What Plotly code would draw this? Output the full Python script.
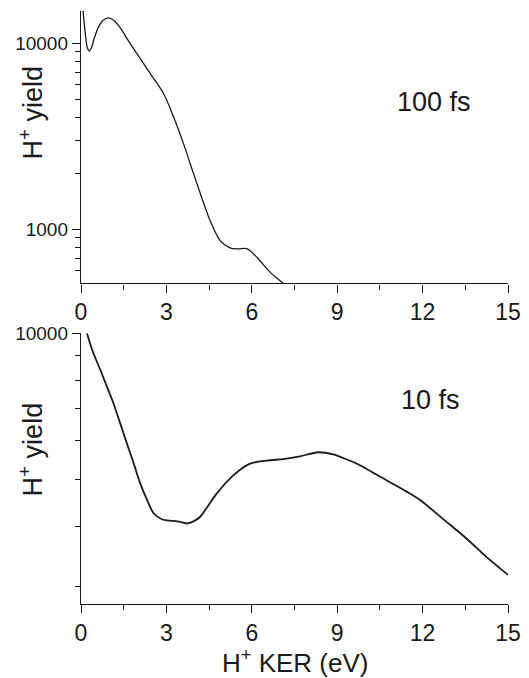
import plotly.graph_objects as go

# ---- data: 100 fs panel ----
ker_100 = [0.03, 0.08, 0.15, 0.22, 0.29, 0.38, 0.47, 0.62, 0.78, 0.97, 1.15, 1.38, 1.65, 1.96, 2.43,
           2.9, 3.25, 3.6, 3.95, 4.19, 4.53, 4.88, 5.23, 5.5, 5.82, 6.18, 6.64, 7.1, 7.25]
yield_100 = [19000, 14500, 11300, 9500, 9090, 9600, 10700, 12300, 13300, 13700, 13300, 12100, 10400, 8840,
             6890, 5380, 4030, 2890, 2000, 1560, 1120, 873, 796, 785, 787, 708, 589, 513, 490]

# ---- data: 10 fs panel ----
ker_10 = [0.21, 0.39, 0.68, 0.91, 1.14, 1.38, 1.61, 1.85, 2.08, 2.32, 2.55, 2.84, 3.02, 3.48, 3.72, 3.95,
          4.19, 4.45, 4.77, 5.35, 5.94, 6.53, 7.11, 7.69, 8.34, 8.86, 9.3, 9.8, 10.5, 11.44, 11.9, 12.84,
          13.54, 14.25, 15.0]
yield_10 = [10000, 9250, 8400, 7760, 7170, 6510, 5930, 5390, 4900, 4530, 4250, 4130, 4110, 4080, 4050, 4090,
            4180, 4390, 4670, 5090, 5380, 5460, 5500, 5570, 5680, 5620, 5500, 5340, 5060, 4710, 4530, 4080,
            3770, 3450, 3170]

# ---- ticks ----
x_ticks = [0, 3, 6, 9, 12, 15]
top_y_ticks = [1000, 10000]
top_y_labels = ["1000", "10000"]
top_y_minor = [500, 600, 700, 800, 900, 2000, 3000, 4000, 5000, 6000, 7000, 8000, 9000]
bot_y_ticks = [10000]
bot_y_labels = ["10000"]
bot_y_minor = [3000, 4000, 5000, 6000, 7000, 8000, 9000]

FONT = "Liberation Sans, Arial, sans-serif"
INK = "#1a1a1a"

fig = go.Figure()
fig.add_trace(go.Scatter(x=ker_100, y=yield_100, mode="lines", xaxis="x", yaxis="y",
                         line=dict(color=INK, width=1.3, shape="spline", smoothing=0.8),
                         showlegend=False, hoverinfo="skip"))
fig.add_trace(go.Scatter(x=ker_10, y=yield_10, mode="lines", xaxis="x2", yaxis="y2",
                         line=dict(color=INK, width=1.8, shape="spline", smoothing=0.8),
                         showlegend=False, hoverinfo="skip"))

xcommon = dict(range=[0, 15], tickmode="array", tickvals=x_ticks, ticks="outside", ticklen=8,
               tickwidth=1.3, tickcolor=INK, showline=True, linecolor=INK, linewidth=1.4,
               showgrid=False, zeroline=False, automargin=False,
               tickfont=dict(size=23, color=INK, family=FONT),
               minor=dict(dtick=1.5, tick0=0, ticks="outside", ticklen=5, tickwidth=1.3,
                          tickcolor=INK, showgrid=False))

ycommon = dict(type="log", ticks="outside", ticklen=8, tickwidth=1.3, tickcolor=INK,
               showline=True, linecolor=INK, linewidth=1.4, showgrid=False, zeroline=False,
               automargin=False, tickfont=dict(size=19, color=INK, family=FONT), tickmode="array")

fig.update_layout(
    width=529, height=678, autosize=False,
    margin=dict(l=81, r=21, t=11, b=74, pad=0),
    paper_bgcolor="white", plot_bgcolor="white",
    font=dict(family=FONT, color=INK, size=19),
    xaxis=dict(domain=[0, 1], anchor="y", **xcommon),
    yaxis=dict(domain=[0.5408, 1.0], anchor="x", range=[2.71, 4.174],
               tickvals=top_y_ticks, ticktext=top_y_labels,
               minor=dict(tickmode="array", tickvals=top_y_minor, ticks="outside",
                          ticklen=5, tickwidth=1.3, tickcolor=INK, showgrid=False),
               **ycommon),
    xaxis2=dict(domain=[0, 1], anchor="y2", **xcommon),
    yaxis2=dict(domain=[0.0, 0.4565], anchor="x2", range=[3.441, 4.0],
                tickvals=bot_y_ticks, ticktext=bot_y_labels,
                minor=dict(tickmode="array", tickvals=bot_y_minor, ticks="outside",
                           ticklen=5, tickwidth=1.3, tickcolor=INK, showgrid=False),
                **ycommon),
)

ann_font = dict(family=FONT, size=27, color=INK)
fig.add_annotation(text="100 fs", x=12.4, y=3.684, xref="x", yref="y",
                   showarrow=False, font=ann_font)
fig.add_annotation(text="10 fs", x=12.26, y=3.862, xref="x2", yref="y2",
                   showarrow=False, font=ann_font)
fig.add_annotation(text="H<sup>+</sup> yield", x=-0.118, y=0.828, xref="paper", yref="paper",
                   textangle=-90, showarrow=False, font=ann_font, xanchor="center", yanchor="middle")
fig.add_annotation(text="H<sup>+</sup> yield", x=-0.118, y=0.26, xref="paper", yref="paper",
                   textangle=-90, showarrow=False, font=dict(family=FONT, size=27, color=INK),
                   xanchor="center", yanchor="middle")
fig.add_annotation(text="H<sup>+</sup> KER (eV)", x=0.5, y=-0.097, xref="paper", yref="paper",
                   showarrow=False, font=dict(family=FONT, size=26, color=INK),
                   xanchor="center", yanchor="middle")

fig.write_html("out.html", config={"displayModeBar": False},
               post_script="document.body.style.margin='0';")
